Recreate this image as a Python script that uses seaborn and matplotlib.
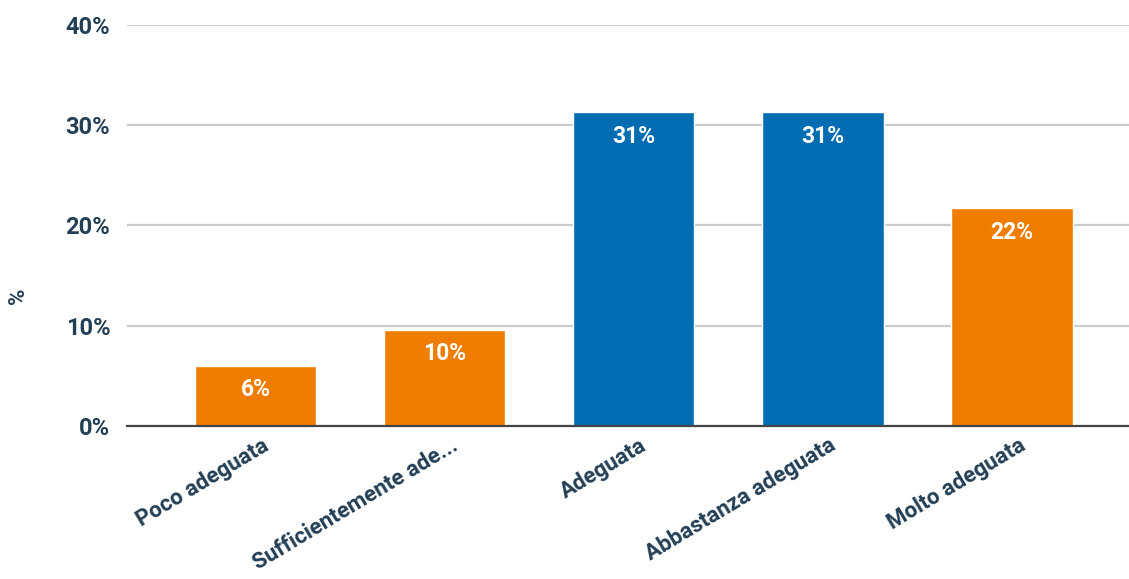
import matplotlib
matplotlib.use("Agg")
import matplotlib.pyplot as plt
import matplotlib.transforms as mtransforms
import seaborn as sns
import pandas as pd

# Survey answers: share of respondents per rating (percent)
categories = ["Poco adeguata", "Sufficientemente ade...", "Adeguata",
              "Abbastanza adeguata", "Molto adeguata"]
values = [6.0, 9.6, 31.3, 31.3, 21.7]
groups = ["low", "low", "mid", "mid", "low"]
y_ticks = [0, 10, 20, 30, 40]

ORANGE = "#ef7d00"
BLUE = "#006db3"
TEXT = "#233f55"

sns.set_theme(style="white")
plt.rcParams["font.family"] = ["Roboto", "DejaVu Sans"]

df = pd.DataFrame({"categoria": categories, "valore": values, "gruppo": groups})

fig = plt.figure(figsize=(11.29, 5.79), dpi=100)
ax = fig.add_axes([127 / 1129, 1 - 426 / 579, 1 - 127 / 1129, (426 - 25) / 579])

sns.barplot(data=df, x="categoria", y="valore", hue="gruppo",
            palette={"low": ORANGE, "mid": BLUE}, dodge=False,
            width=0.643, legend=False, ax=ax, saturation=1)

ax.set_ylim(0, 40)
ax.set_xlim(-0.68, 4.62)
ax.set_yticks(y_ticks)
ax.set_yticklabels([f"{t}%" for t in y_ticks], fontsize=17, fontweight="bold",
                   color=TEXT)
ax.tick_params(axis="y", length=0, pad=12)
ax.tick_params(axis="x", length=0, pad=6)
ax.set_xticks(range(len(categories)))
ax.set_xticklabels(categories, rotation=31, ha="right", rotation_mode="anchor",
                   fontsize=16, fontweight="bold", color=TEXT)
# nudge the slanted category labels a little to the right
shift = mtransforms.ScaledTranslation(6 / 100, 0, fig.dpi_scale_trans)
for lbl in ax.get_xticklabels():
    lbl.set_transform(lbl.get_transform() + shift)
ax.set_xlabel("")
ax.set_ylabel("")

ax.grid(axis="y", color="#cccccc", linewidth=1.6)
ax.set_axisbelow(True)
for side in ["top", "right", "left"]:
    ax.spines[side].set_visible(False)
ax.spines["bottom"].set_color("#444444")
ax.spines["bottom"].set_linewidth(1.6)

# value labels inside the top of each bar
for container in ax.containers:
    for patch in container:
        h = patch.get_height()
        if h != h or h == 0:
            continue
        ax.annotate(f"{round(h):.0f}%",
                    (patch.get_x() + patch.get_width() / 2, h),
                    xytext=(0, -9), textcoords="offset points",
                    ha="center", va="top", fontsize=16.5, fontweight="bold",
                    color="white")

fig.text(18 / 1129, 1 - 296 / 579, "%", rotation=90, ha="center", va="center",
         fontsize=16, fontweight="bold", color=TEXT)

fig.savefig("out.png", dpi=100, facecolor="white")
